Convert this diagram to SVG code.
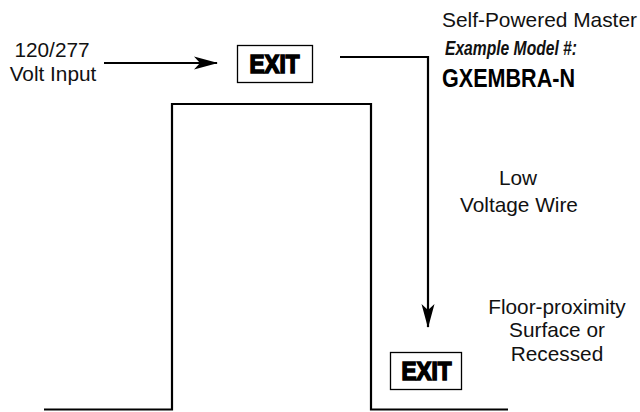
<svg xmlns="http://www.w3.org/2000/svg" width="640" height="412" viewBox="0 0 640 412">
<style>
.t{font-family:"Liberation Sans",Arial,sans-serif;font-size:20.8px;fill:#111}
.c{text-anchor:middle}
.ln{fill:none;stroke:#000;stroke-width:2.2}
.box{fill:#fff;stroke:#000;stroke-width:1.3}
.exit{font-family:"Liberation Sans",Arial,sans-serif;font-weight:bold;font-size:25px;fill:#000;stroke:#000;stroke-width:1.6;stroke-linejoin:miter;text-anchor:middle}
</style>
<defs>
<marker id="ah" markerUnits="userSpaceOnUse" markerWidth="24" markerHeight="14" refX="23" refY="7" orient="auto">
<path d="M0,0.5 L24,7 L0,13.5 L6,7 Z" fill="#000"/>
</marker>
</defs>
<g id="wall">
<path class="ln" d="M44,409.5 H172 V104 H371 V409.5 H508"/>
</g>
<g id="connectors">
<path class="ln" d="M104,63 H217" marker-end="url(#ah)"/>
<path class="ln" d="M340,57 H428 V327" marker-end="url(#ah)"/>
</g>
<g id="input">
<text class="t c" x="52" y="57">120/277</text>
<text class="t c" x="53" y="81">Volt Input</text>
</g>
<g id="master">
<rect class="box" x="237.5" y="45.5" width="75" height="37"/>
<text class="exit" x="274.5" y="72.5" textLength="50" lengthAdjust="spacingAndGlyphs">EXIT</text>
</g>
<g id="master-label">
<text class="t" x="442" y="27" textLength="195" lengthAdjust="spacingAndGlyphs">Self-Powered Master</text>
<text class="t" x="445" y="55" font-weight="bold" font-style="italic" textLength="132" lengthAdjust="spacingAndGlyphs">Example Model #:</text>
<text class="t" x="442" y="87" textLength="133" lengthAdjust="spacingAndGlyphs" style="font-size:25px;font-weight:bold;fill:#000">GXEMBRA-N</text>
</g>
<g id="wire-label">
<text class="t c" x="518" y="185">Low</text>
<text class="t c" x="519" y="212">Voltage Wire</text>
</g>
<g id="floor">
<rect class="box" x="390.5" y="352.5" width="71" height="37"/>
<text class="exit" x="426.5" y="379.5" textLength="50" lengthAdjust="spacingAndGlyphs">EXIT</text>
</g>
<g id="floor-label">
<text class="t c" x="557" y="314">Floor-proximity</text>
<text class="t c" x="557" y="337">Surface or</text>
<text class="t c" x="557" y="361">Recessed</text>
</g>
</svg>
